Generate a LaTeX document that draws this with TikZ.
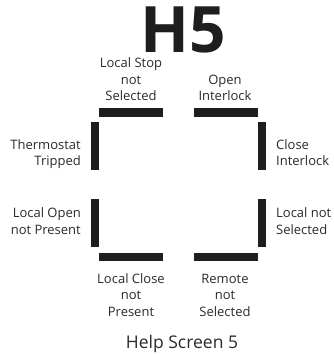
\documentclass[tikz,border=0pt]{standalone}
\usepackage{fontspec}
\setmainfont{Open Sans}
\definecolor{barc}{HTML}{1E1E1E}
\definecolor{txt}{HTML}{2A2A2A}
\begin{document}
\begin{tikzpicture}[x=1pt,y=-1pt,
  hbar/.style={fill=barc,draw=none,minimum width=64pt,minimum height=8.5pt,inner sep=0pt},
  vbar/.style={fill=barc,draw=none,minimum width=8pt,minimum height=48pt,inner sep=0pt},
  lbl/.style={text=txt,inner sep=0pt,font=\fontsize{13}{16.4}\selectfont}]
\useasboundingbox (0,0) rectangle (334,354);
\node[text=barc,inner sep=0pt,anchor=base,font=\fontsize{64}{64}\selectfont\bfseries] (title) at (183,52.5) {H5};
\node[hbar] (top1) at (131,112.5) {};
\node[hbar] (top2) at (225.5,112.5) {};
\node[hbar] (bot1) at (131,257) {};
\node[hbar] (bot2) at (225.5,257) {};
\node[vbar] (l1) at (95,146) {};
\node[vbar] (l2) at (95,222.5) {};
\node[vbar] (r1) at (262,146) {};
\node[vbar] (r2) at (262,222.5) {};
\node[lbl,align=center,anchor=base] (t1) at (131,100.7) {Local Stop\\not\\Selected};
\node[lbl,align=center,anchor=base] (t2) at (225,100.7) {Open\\Interlock};
\node[lbl,align=right,anchor=base east] (t3) at (81,165.7) {Thermostat\\Tripped};
\node[lbl,align=right,anchor=base east] (t4) at (81,234) {Local Open\\not Present};
\node[lbl,align=left,anchor=base west] (t5) at (276,165.7) {Close\\Interlock};
\node[lbl,align=left,anchor=base west] (t6) at (276,234) {Local not\\Selected};
\node[lbl,align=center,anchor=base] (t7) at (131,316) {Local Close\\not\\Present};
\node[lbl,align=center,anchor=base] (t8) at (225,316) {Remote\\not\\Selected};
\node[lbl,anchor=base,font=\fontsize{17.5}{20}\selectfont] (t9) at (182,348.3) {Help Screen 5};
\end{tikzpicture}
\end{document}
